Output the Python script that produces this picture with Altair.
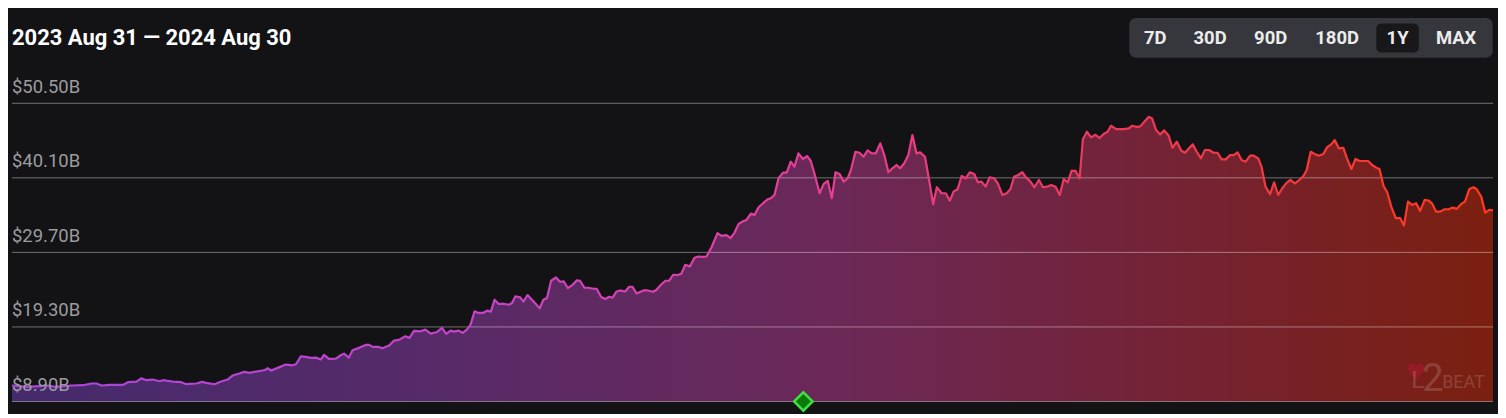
import altair as alt
import pandas as pd

# ---------------- data ----------------
# days since 2023-08-31, and total value locked in billions of USD
days = [
    0, 3.6, 6.9, 8.9, 10.5, 14.6, 17.5, 19.5, 20.8, 22.0,
    24.0, 27.3, 28.5, 30.6, 31.8, 33.0, 34.6, 36.3, 37.1, 39.5,
    41.6, 42.8, 45.3, 46.7, 47.7, 49.8, 51.4, 53.0, 54.2, 55.9,
    57.1, 58.3, 59.6, 61.6, 62.4, 62.8, 63.7, 65.3, 67.3, 69.0,
    69.8, 71.0, 72.2, 73.5, 74.7, 75.9, 76.7, 77.9, 79.6, 80.8,
    81.6, 82.8, 83.7, 85.3, 86.9, 87.8, 88.6, 90.2, 91.0, 92.7,
    93.9, 95.1, 96.7, 97.7, 98.8, 100.4, 101.6, 102.9, 104.5, 105.7,
    106.7, 107.8, 108.6, 109.8, 110.8, 111.8, 112.7, 113.7, 114.7, 115.7,
    116.8, 117.7, 118.6, 119.6, 120.8, 122.1, 122.9, 123.7, 124.9, 125.7,
    126.7, 128.2, 129.7, 130.6, 131.5, 132.5, 133.7, 134.7, 135.6, 136.6,
    137.6, 138.8, 139.6, 140.7, 141.7, 142.9, 143.7, 144.8, 145.8, 146.8,
    147.6, 148.6, 149.4, 150.7, 151.7, 152.5, 153.5, 155.2, 156.2, 157.6,
    158.4, 159.5, 160.6, 161.5, 162.5, 163.6, 164.5, 165.5, 166.6, 167.7,
    168.6, 169.6, 170.7, 171.9, 173.4, 174.4, 175.6, 176.6, 177.6, 178.6,
    179.7, 180.5, 181.6, 182.5, 183.5, 184.6, 185.8, 186.6, 187.4, 188.4,
    189.5, 190.4, 191.4, 192.3, 193.3, 194.4, 195.4, 196.3, 197.2, 198.5,
    199.5, 200.5, 201.5, 202.4, 203.4, 204.4, 205.4, 206.2, 207.3, 208.3,
    209.3, 210.3, 211.3, 212.3, 213.4, 214.4, 215.4, 216.4, 217.4, 218.3,
    219.3, 220.3, 221.3, 222.3, 223.2, 224.4, 225.4, 226.4, 227.3, 228.5,
    229.5, 230.5, 231.4, 232.4, 233.4, 234.4, 235.4, 236.5, 237.4, 238.3,
    239.3, 240.3, 241.4, 242.3, 243.4, 244.5, 245.4, 246.3, 247.3, 248.3,
    249.1, 250.3, 251.3, 252.4, 253.4, 254.4, 255.4, 256.5, 257.5, 258.5,
    259.5, 260.4, 261.4, 262.4, 263.2, 264.2, 265.2, 266.3, 267.3, 268.3,
    269.3, 270.1, 271.4, 273.2, 274.5, 275.3, 276.3, 277.3, 278.3, 279.4,
    280.2, 281.2, 282.2, 283.2, 284.3, 285.2, 286.3, 287.4, 288.3, 289.3,
    290.2, 291.2, 292.2, 293.2, 294.2, 295.3, 296.3, 297.3, 298.3, 299.4,
    300.3, 301.2, 302.2, 303.2, 304.3, 305.2, 306.3, 307.1, 308.1, 309.2,
    310.2, 311.2, 312.2, 313.3, 314.2, 315.3, 316.3, 317.4, 318.2, 319.2,
    320.2, 321.2, 322.3, 323.2, 324.3, 325.1, 326.1, 327.2, 328.1, 329.2,
    330.2, 331.2, 332.2, 333.3, 334.3, 335.3, 336.1, 337.1, 338.0, 339.0,
    340.1, 341.2, 342.1, 343.1, 344.1, 345.1, 346.1, 347.2, 348.2, 349.1,
    350.0, 351.0, 352.1, 353.1, 354.1, 355.1, 356.2, 357.1, 358.2, 359.2,
    360.0, 361.1, 362.1, 363.1, 364.0,
]
tvl = [
    11.13, 10.95, 11.03, 11.13, 10.95, 11.13, 11.17, 11.41, 11.41, 11.13,
    11.22, 11.22, 11.59, 11.68, 12.14, 11.87, 11.96, 11.73, 11.87, 11.68,
    11.59, 11.31, 11.41, 11.64, 11.50, 11.31, 11.68, 11.96, 12.52, 12.80,
    13.03, 12.90, 13.03, 13.22, 13.35, 13.54, 13.22, 13.59, 14.05, 13.95,
    14.09, 15.21, 15.12, 14.98, 15.02, 14.75, 15.40, 14.84, 14.89, 15.35,
    15.58, 15.02, 16.04, 16.38, 16.79, 16.79, 16.51, 16.51, 16.32, 16.70,
    17.39, 17.49, 17.99, 17.77, 18.74, 18.69, 18.92, 18.37, 18.60, 19.16,
    18.32, 18.78, 18.64, 18.78, 18.46, 18.92, 19.62, 21.47, 21.25, 21.25,
    21.57, 21.43, 23.10, 22.50, 22.54, 22.40, 22.64, 23.56, 23.42, 22.82,
    23.75, 22.86, 21.89, 23.10, 23.34, 25.74, 26.20, 25.60, 25.65, 24.73,
    25.09, 25.79, 25.74, 24.77, 24.77, 24.63, 24.63, 23.47, 23.20, 23.52,
    23.38, 24.25, 24.39, 24.25, 24.91, 24.91, 23.98, 24.39, 24.39, 24.21,
    24.49, 25.19, 25.74, 25.74, 26.58, 26.54, 26.72, 27.97, 27.73, 28.90,
    29.13, 29.08, 29.13, 30.38, 32.38, 32.01, 32.11, 31.69, 32.47, 33.68,
    34.05, 34.20, 35.11, 34.93, 36.00, 36.56, 37.12, 37.30, 37.71, 40.04,
    40.82, 40.82, 42.35, 41.65, 43.52, 42.73, 43.14, 42.49, 40.74, 37.95,
    39.25, 39.66, 37.26, 40.88, 40.64, 39.57, 40.04, 41.19, 43.74, 43.60,
    43.05, 43.94, 43.52, 43.52, 44.91, 43.28, 40.88, 41.43, 41.89, 41.43,
    42.13, 43.28, 46.07, 43.52, 43.66, 43.05, 39.80, 36.42, 38.79, 37.95,
    37.95, 36.92, 38.17, 38.51, 40.36, 40.04, 40.88, 40.64, 39.48, 39.57,
    38.87, 40.18, 40.04, 39.34, 37.71, 37.95, 38.55, 40.26, 40.50, 40.88,
    40.26, 39.57, 38.79, 39.80, 38.79, 38.87, 39.11, 38.87, 37.71, 39.94,
    39.48, 41.06, 41.06, 40.04, 45.47, 46.53, 45.75, 46.11, 45.65, 46.21,
    46.53, 47.36, 46.90, 46.90, 47.00, 47.36, 47.22, 47.28, 47.92, 48.61,
    48.39, 46.76, 46.16, 46.72, 45.97, 44.30, 45.13, 43.88, 43.60, 44.22,
    44.77, 43.74, 42.82, 43.98, 43.98, 43.60, 43.60, 42.68, 42.68, 43.28,
    43.28, 43.66, 42.59, 42.35, 43.19, 43.19, 42.82, 41.65, 38.87, 37.81,
    39.48, 37.71, 38.65, 39.43, 39.80, 39.34, 39.76, 40.36, 41.19, 43.74,
    43.42, 43.19, 43.42, 44.35, 44.81, 45.37, 44.22, 44.30, 42.82, 41.33,
    42.73, 42.45, 42.45, 42.45, 41.89, 41.52, 41.33, 38.97, 38.09, 36.09,
    34.47, 34.47, 33.44, 36.78, 36.32, 36.56, 35.49, 37.02, 36.92, 36.46,
    35.39, 35.39, 35.72, 35.72, 35.95, 35.77, 36.46, 36.78, 38.55, 38.79,
    38.51, 37.48, 35.25, 35.63, 35.58,
]
ticks = [8.9, 19.3, 29.7, 40.1, 50.5]
title_text = "2023 Aug 31 — 2024 Aug 30"
ranges = ["7D", "30D", "90D", "180D", "1Y", "MAX"]
selected_range = "1Y"
event_days = [194.5]
day_span = [0, 364]
watermark_parts = ["L", "2", "BEAT"]

# ---------------- layout / style ----------------
W, H = 1485, 299
BG = "#131215"
button_centers = [1146.3, 1201.3, 1262.0, 1328.7, 1389.3, 1448.0]
HEART = ("M0,1 C-0.4,0.6 -1,0.2 -1,-0.35 C-1,-0.85 -0.35,-1.1 0,-0.55 "
         "C0.35,-1.1 1,-0.85 1,-0.35 C1,0.2 0.4,0.6 0,1 Z")

df = pd.DataFrame({"day": days, "tvl": tvl})
tick_df = pd.DataFrame({"v": ticks, "lbl": [f"${t:.2f}B" for t in ticks]})
ev_df = pd.DataFrame({"day": event_days, "tvl": [ticks[0]] * len(event_days)})
btn_df = pd.DataFrame({"label": ranges, "cx": button_centers})
one = pd.DataFrame({"a": [0]})

xs = alt.Scale(domain=day_span, nice=False, zero=False)
ys = alt.Scale(domain=[ticks[0], ticks[-1]], nice=False, zero=False)

fill_grad = {
    "gradient": "linear", "x1": 0, "x2": 1, "y1": 0, "y2": 0,
    "stops": [
        {"offset": 0.0, "color": "#452a6c"},
        {"offset": 0.3, "color": "#582a68"},
        {"offset": 0.55, "color": "#6b2858"},
        {"offset": 0.8, "color": "#752232"},
        {"offset": 1.0, "color": "#7b1f0f"},
    ],
}
line_grad = {
    "gradient": "linear", "x1": 0, "x2": 1, "y1": 0, "y2": 0,
    "stops": [
        {"offset": 0.0, "color": "#a846da"},
        {"offset": 0.3, "color": "#c444c6"},
        {"offset": 0.5, "color": "#e240a0"},
        {"offset": 0.75, "color": "#ee3858"},
        {"offset": 1.0, "color": "#ff3a1c"},
    ],
}

base = alt.Chart(df)
area = base.mark_area(color=fill_grad, opacity=1).encode(
    x=alt.X("day:Q", scale=xs, axis=None),
    y=alt.Y("tvl:Q", scale=ys, axis=None),
    y2=alt.datum(ticks[0]),
)
line = base.mark_line(color=line_grad, strokeWidth=2.2, strokeJoin="round").encode(
    x=alt.X("day:Q", scale=xs, axis=None),
    y=alt.Y("tvl:Q", scale=ys, axis=None),
)
grid = alt.Chart(tick_df).mark_rule(color="#ffffff", opacity=0.4, strokeWidth=1).encode(
    y=alt.Y("v:Q", scale=ys, axis=None),
    x=alt.value(0),
    x2=alt.value(W),
)
labels = alt.Chart(tick_df).mark_text(
    align="left", baseline="alphabetic", dy=-10.5, font="Roboto", fontSize=18.5, color="#9c9c9c"
).encode(
    y=alt.Y("v:Q", scale=ys, axis=None),
    x=alt.value(0),
    text="lbl:N",
)
event = alt.Chart(ev_df).mark_point(
    shape="diamond", size=340, filled=True, fill="#0b7a0b", stroke="#3fe03f",
    strokeWidth=2.5, opacity=1,
).encode(
    x=alt.X("day:Q", scale=xs, axis=None),
    y=alt.Y("tvl:Q", scale=ys, axis=None),
)

title = alt.Chart(pd.DataFrame({"t": [title_text]})).mark_text(
    align="left", baseline="alphabetic", font="Roboto", fontSize=22, fontWeight="bold", color="#ffffff"
).encode(x=alt.value(0), y=alt.value(-58), text="t:N")

bar = alt.Chart(one).mark_rect(color="#36373c", cornerRadius=7).encode(
    x=alt.value(1120.3), x2=alt.value(1484.7), y=alt.value(-85.6), y2=alt.value(-45.6)
)
sel_i = ranges.index(selected_range)
sel = alt.Chart(one).mark_rect(color="#18181b", cornerRadius=5).encode(
    x=alt.value(button_centers[sel_i] - 21.3), x2=alt.value(button_centers[sel_i] + 21.3),
    y=alt.value(-80), y2=alt.value(-51)
)
btn_text = alt.Chart(btn_df).mark_text(
    align="center", baseline="alphabetic", font="Roboto", fontSize=18.5, fontWeight="bold", color="#ececec"
).encode(x=alt.X("cx:Q", scale=None), y=alt.value(-59), text="label:N")

# faint L2BEAT watermark, bottom right
wm_heart = alt.Chart(one).mark_point(
    shape=HEART, size=270, filled=True, color="#c8143e", opacity=0.38
).encode(x=alt.value(1408), y=alt.value(268))
wm_l = alt.Chart(one).mark_text(
    text=watermark_parts[0], align="left", baseline="alphabetic", font="Roboto", fontSize=24,
    fontWeight=400, color="#ffffff", opacity=0.15
).encode(x=alt.value(1403), y=alt.value(285))
wm_2 = alt.Chart(one).mark_text(
    text=watermark_parts[1], align="left", baseline="alphabetic", font="Roboto", fontSize=38,
    fontWeight=400, color="#ffffff", opacity=0.15
).encode(x=alt.value(1414), y=alt.value(288.5))
wm_beat = alt.Chart(one).mark_text(
    text=watermark_parts[2], align="left", baseline="alphabetic", font="Roboto", fontSize=18,
    fontWeight=400, color="#ffffff", opacity=0.15
).encode(x=alt.value(1434), y=alt.value(285))

chart = alt.layer(
    area, grid, line, labels, event, wm_heart, wm_l, wm_2, wm_beat, title, bar, sel, btn_text
).properties(
    width=W, height=H,
    autosize=alt.AutoSizeParams(type="none"),
    padding={"left": 4, "top": 95, "right": 5, "bottom": 12},
    background=BG,
).configure_view(stroke=None)

chart.save("out.html", embed_options={"renderer": "svg", "actions": False})
